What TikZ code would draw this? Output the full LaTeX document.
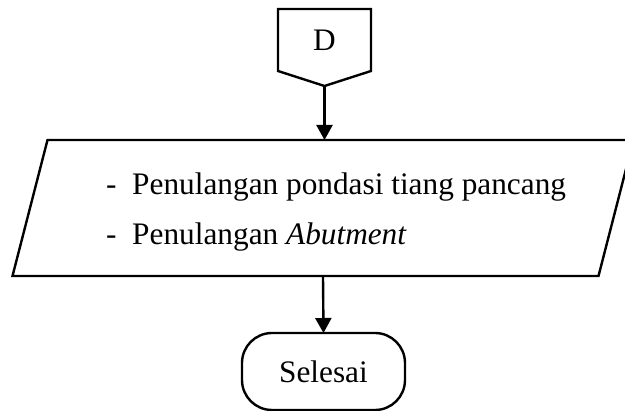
\documentclass[tikz,border=0pt]{standalone}
\usepackage{fontspec}
\setmainfont{Liberation Serif}
\usetikzlibrary{arrows.meta,positioning}
\tikzset{
    flowline/.style={
        line width=2.4pt,
        -{Triangle[width=16pt,length=15pt]}
    },
    connbox/.style={
        rectangle, minimum width=93pt, minimum height=62pt,
        inner sep=0pt, outer sep=0pt
    }
}

\begin{document}
\begin{tikzpicture}[
        x=1pt, y=-1pt,
        font=\fontsize{31.3}{50}\selectfont,
        iobox/.style={
            rectangle, minimum width=586pt, minimum height=136pt,
            inner sep=0pt, outer sep=0pt
        },
        endbox/.style={
            draw, line width=2.4pt, rectangle, rounded corners=30pt,
            minimum width=163pt, minimum height=77pt,
            inner sep=0pt, outer sep=0pt
        }
      ]

  \useasboundingbox (0,0) rectangle (625,411);

  % penghubung halaman
  \node[connbox] (D) at (324.5,40) {D};
  \coordinate (Dtip) at ([yshift=-15pt]D.south);
  \draw[line width=2.4pt] (D.north west) -- (D.north east) -- (D.south east)
      -- (Dtip) -- (D.south west) -- cycle;

  % input/output
  \node[iobox] (tasks) at (323,208) {};
  \draw[line width=2.4pt] ([xshift=17.5pt]tasks.north west) -- ([xshift=17.5pt]tasks.north east)
      -- ([xshift=-17.5pt]tasks.south east) -- ([xshift=-17.5pt]tasks.south west) -- cycle;
  \node[align=left, anchor=west, inner sep=0pt] (tasktext) at (106,212)
      {-~ Penulangan pondasi tiang pancang\\-~ Penulangan \textit{Abutment}};

  \node[endbox] (end) at (323.5,371.5) {Selesai};

  \draw[flowline] (Dtip) -- (Dtip |- tasks.north);
  \draw[flowline] (tasks.south) -- (end.north);

\end{tikzpicture}
\end{document}
